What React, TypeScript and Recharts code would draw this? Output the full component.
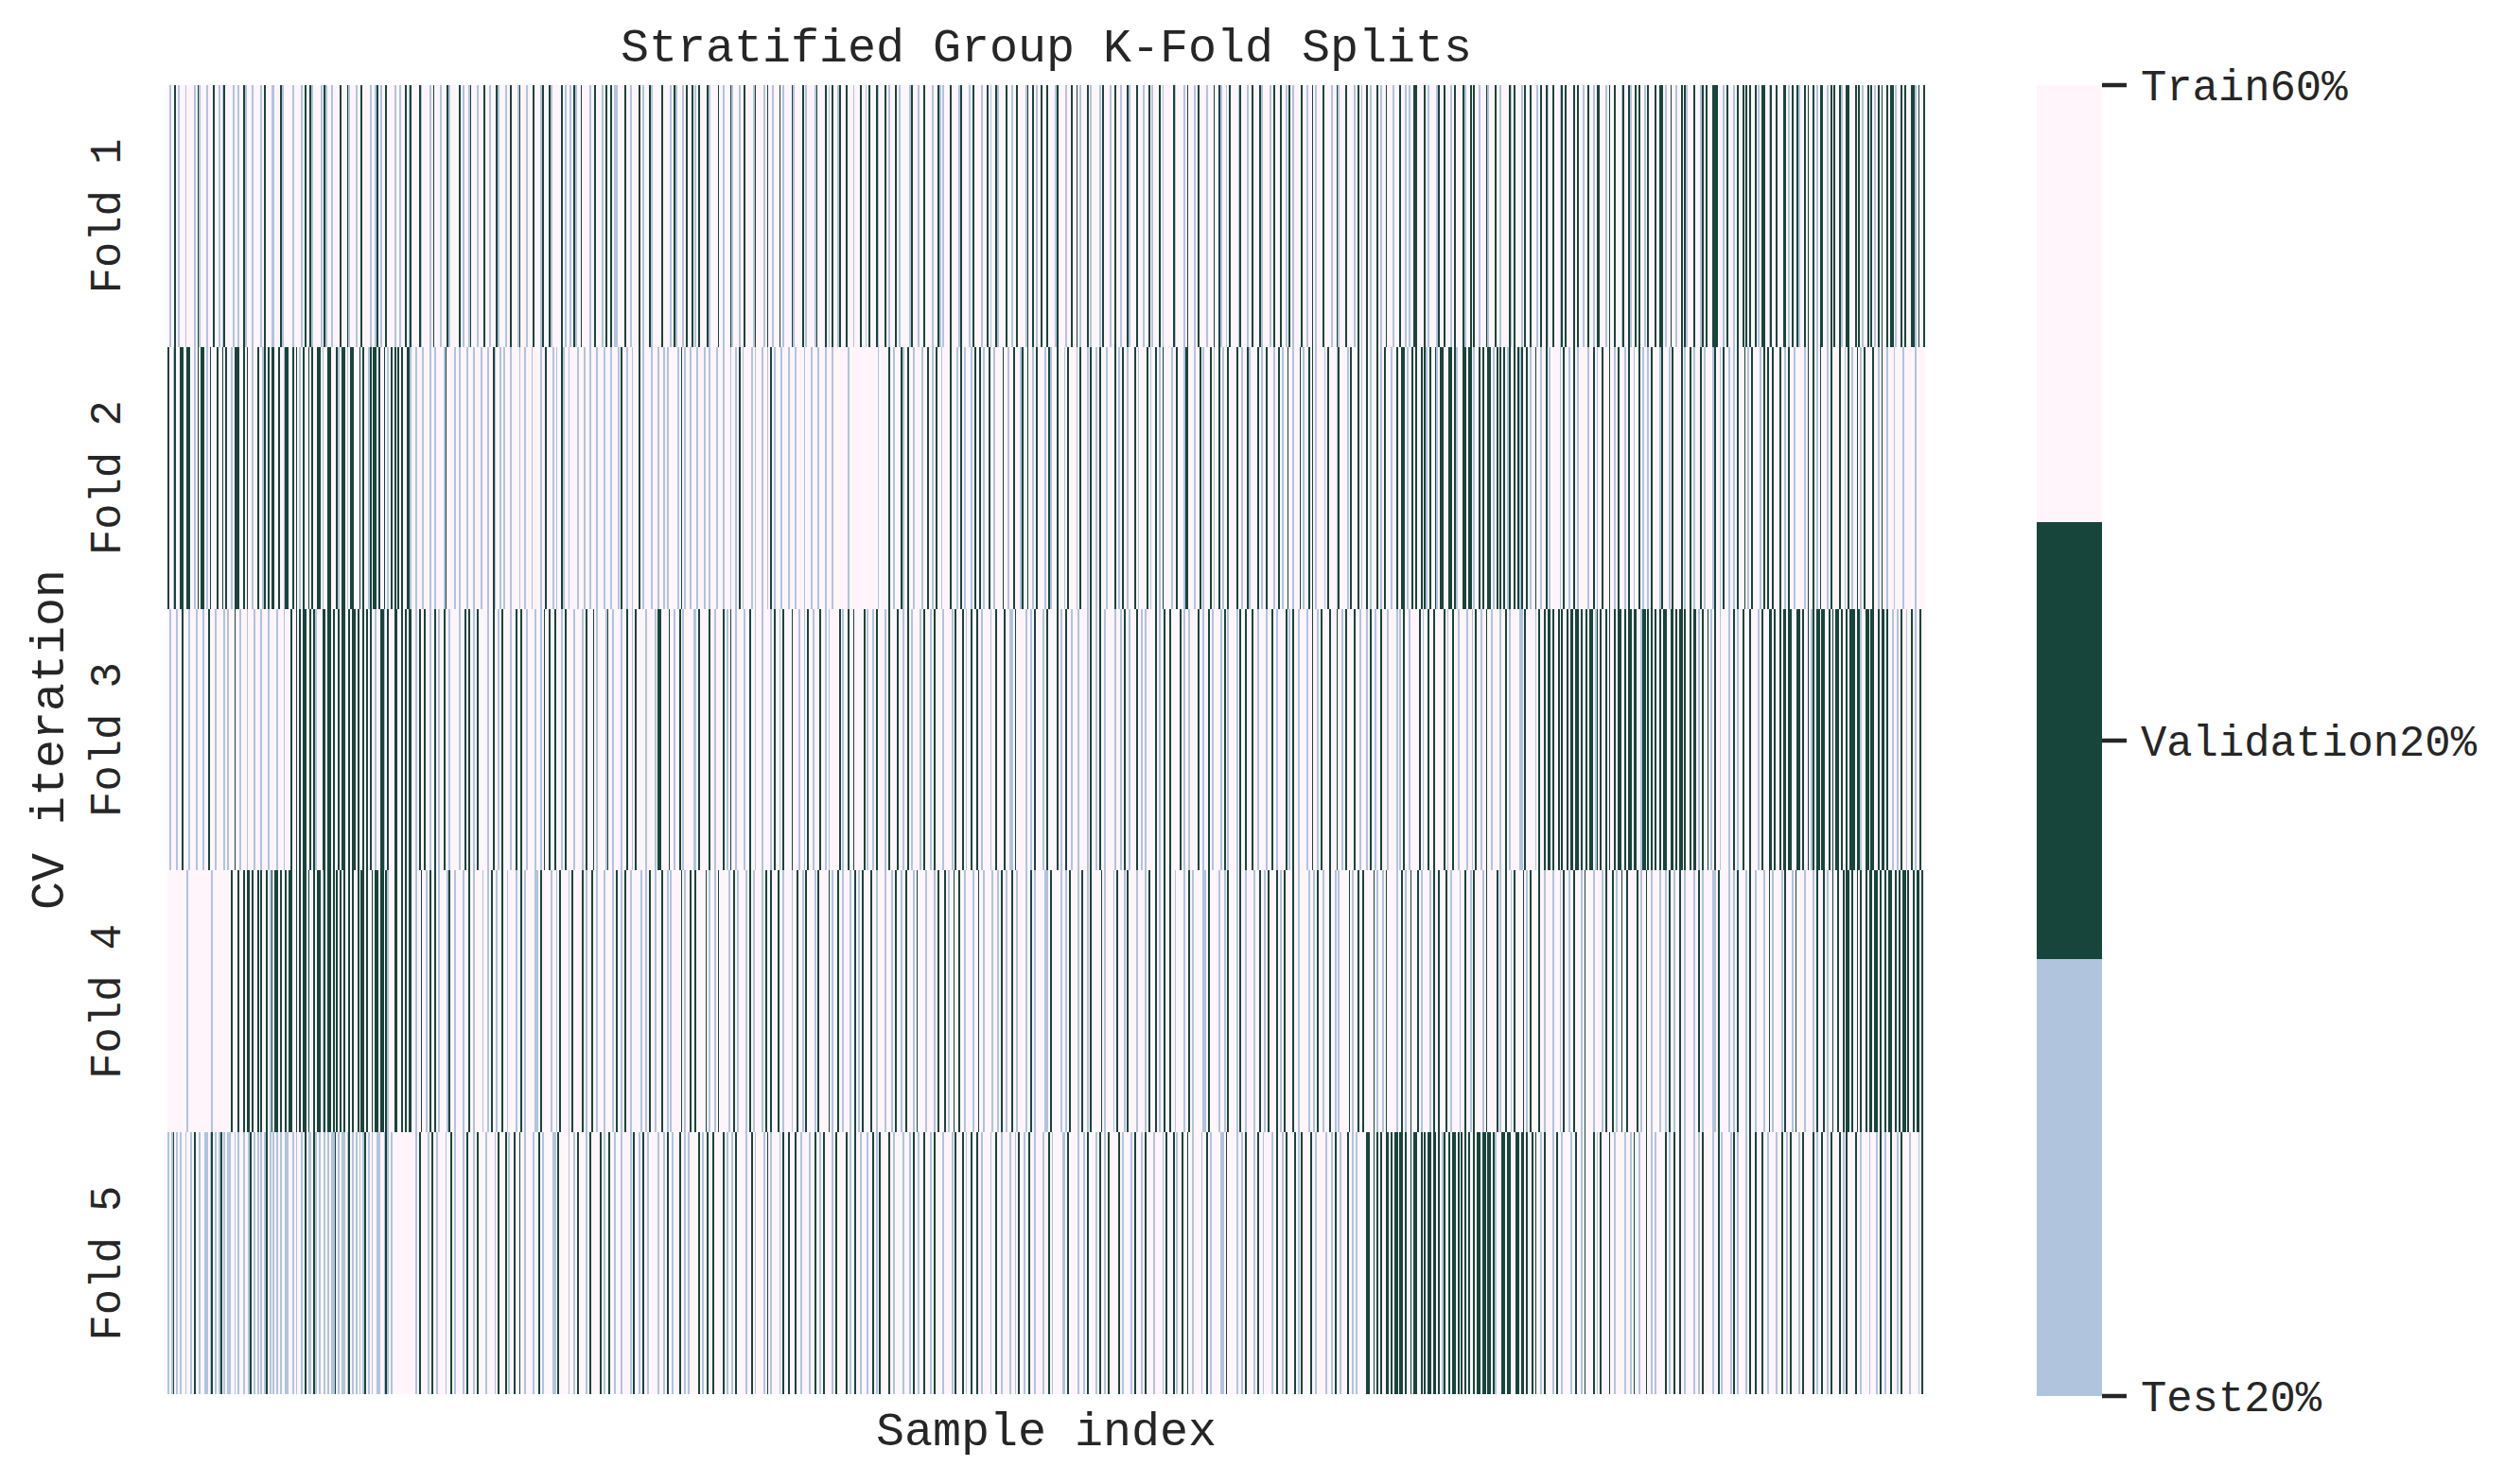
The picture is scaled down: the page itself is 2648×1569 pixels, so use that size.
import React from 'react';
import { BarChart, Bar, XAxis, YAxis, Cell } from 'recharts';

const TITLE = 'Stratified Group K-Fold Splits';
const X_LABEL = 'Sample index';
const Y_LABEL = 'CV iteration';
const FOLD_LABELS = ['Fold 1', 'Fold 2', 'Fold 3', 'Fold 4', 'Fold 5'];
// split codes: 0 = train, 1 = validation, 2 = test
const SPLIT_COLORS = ['#fff5fa', '#18453b', '#b0c4de'];
const COLORBAR_KEYS = ['test', 'validation', 'train'];
const COLORBAR_COLORS = ['#b0c4de', '#18453b', '#fff5fa'];
const COLORBAR_TICKS = [0, 1.5, 3];
const COLORBAR_LABELS = ['Test20%', 'Validation20%', 'Train60%'];

const FOLD_1 = `
0200102000 2000020120 0020001002 0210000200 2001200020 0002010002 2000120000 0200002010 0120000201 2002000010
0012000200 1000020021 0200100002 0020010210 0001200002 0100020001 2000001020 0210002000 1002000120 0020010002
1000200010 0021000120 0000102002 0120010000 2001000201 0010220000 1002000010 2000120000 0100002012 0002010010
2010000120 0001002000 1200020010 0002100002 0100200010 2000012000 0102000021 0000102010 0210001000 2000100201
0001200010 2000102000 0021000200 1000020012 0200010000 2100002010 0002001020 0120000100 2001000021 0010200100
1000021000 0200100102 0001020000 2010002001 0020001200 0100020010 2000102000 0012000020 1000201000 0200010012
0020100002 1000200100 0120000201 0001002010 2000010020 0102000100 0020012000 1000020102 0010200010 2001000200
0100202001 1000010200 0021001000 2010000120 0101002000 1200010020 0001201000 2010010002 0100120010 0021010000
1010020010 0201100020 1001000210 0120010100 2010001001 1020010020 0101200010 0021010001 1100020100 0201001010
1001020110 0210010001 1020100120 0101001020 1100201010 0120011000 1010200101 0201010010 1102001010 0011201001
`;

const FOLD_2 = `
1002100110 0110020101 1020100010 0101002011 1001010020 0100210101 1001002110 0101020100 1010011020 0110001201
1020110001 0100210110 1001020101 0101001120 0200020002 0020000210 0002002000 2000200020 0020012002 0200020000
2002000200 0020010002 0200120020 0002000200 2000200020 0020002010 0200200010 2000020002 0020200000 2010200200
0200020020 0020002000 2002010200 0020200020 0201020002 0002000200 0020002000 2000200020 0000000200 0000000000
0000200000 1002000120 0100200002 0010020100 2000010002 0102000201 0010200100 2000010020 0100021001 0020100002
0120001000 2010000201 0002010020 1000200001 0201002000 1020000102 0010201000 0200100021 1000200102 0001020010
2001000010 0200120000 1020010002 0010200100 2000102001 0102000020 1000021000 0201000102 0010200010 2010002001
0011020010 1001012010 0120110001 1012000110 1102001010 0110201010 1021001012 1001020010 0200102000 0020100200
1020000020 0102001000 1002010002 0100200102 0020100002 1000201000 0102001020 0010200002 1002010020 0201000102
0100002010 1001000100 2010020000 0201001020 1000201000 0100201020 0102010000 1002010020 0020000200 0000200000
`;

const FOLD_3 = `
0200020010 0020002000 2001000200 0020200010 0200020002 0002000200 0020002000 1001010110 0101200011 0110100101
1001011010 0101010020 0112010001 1001010110 0201001002 0010200100 2000002001 0100201000 0020010020 1000020010
0100200002 0020100100 1000201000 0200002010 0010200002 1002000020 0100201000 0020000201 1000010020 0102000002
2010000010 0200001020 1002000020 0100200020 0002010020 1000010002 0020100200 0100202000 0010200100 1000001020
0201000020 1000010020 0102000020 1000201000 0200002010 0010200100 1002000020 0100001002 2010000020 0201000020
1000001020 0100200020 0002010020 1002000002 0020100200 0100202000 0010200100 1000001020 0200001002 0010200002
0102000020 1001000100 2000020010 0200001020 1002000020 0100201000 0100010020 1000010020 0020100200 1000200002
0201002000 0010200100 1000001020 0100200002 0020100200 1002000020 0102000002 2010000020 1001011010 0101001011
0110100101 1021010010 1001011001 0110110021 1010101001 0110011010 1101001011 0201001020 1002000020 0102001000
1000020100 0110100101 1011000110 1001021011 0110010101 1010010111 0112001101 1001011010 0200201002 0010200100
`;

const FOLD_4 = `
0000000000 0200000000 0000020000 0000001000 1001011010 0101001021 0110100101 1001010110 1001011021 0110101010
1001010010 1101001011 0110120001 1001010110 0200100201 0010200002 1002000020 0100200002 0020100200 1002000020
0102000002 2010000020 0201000020 1000001020 0100200020 0002010020 1002000002 0020100200 0100202000 0010200100
1000001020 0201000002 0010200002 0102000020 1001000100 2000020010 0201000020 1000001020 0100200020 0102010000
1002000020 0020100200 1000201000 0200002010 0010200100 1002000020 0100200002 0020100200 1002000020 0102000002
2010000020 0201000020 1002010000 0102000020 1000201000 0200002010 0010200100 1002000020 0102000002 2010000020
0201000020 1002000020 0100201000 0102010000 1002000002 0020100200 0100202000 0010200100 1000001020 0201000002
0010200100 0102000020 1001000100 2000020010 0201000020 1000001020 0100201000 0102010000 1002000020 0020100200
1000201000 0200002010 0010200100 1000001020 0100200002 0020100200 1002000020 0102000002 2010000020 0201000020
1002000020 0102000020 1000201000 0200002010 0010200100 1001011010 0101001011 0110100101 1001010110 1001011010
`;

const FOLD_5 = `
2021020200 2002010020 0220210202 1020220020 2002002102 0202021020 2020200220 0202002010 2201202002 0202210202
2021020202 0210202002 2002120200 0000000000 0201000020 1002000020 0102000020 1000201000 0200002010 0010200100
1002000020 0102000002 2010000020 0201000020 1000001020 0100200020 0002010020 1002000002 0020100200 0100202000
0010200100 1000001020 0201000002 0010200002 0102000020 1001000100 2000020010 0201000020 1000001020 0100200020
0102010000 1002000020 0020100200 1000201000 0200002010 0010200100 1002000020 0100200002 0020100200 1002000020
0102000002 2010000020 0201000020 1002010000 0102000020 1000201000 0200002010 0010200100 1002000020 0102000002
2010000020 0201000020 1002000020 0100201000 0102010000 1002000002 0020100200 0100202000 0011001010 1001101011
0110100101 1001010110 1101021001 0110101010 1001011011 0110120001 1011000110 1101001010 0201000020 1002000020
0100201000 0102010000 1002000002 0020100200 0100202000 0010200100 1002000020 0201000002 0010200002 0102000020
1001000100 2000020010 0201000020 1000001020 0100201000 0102010000 1002000020 0020100200 1000201000 0200002010
`;

const FOLDS: number[][] = [FOLD_1, FOLD_2, FOLD_3, FOLD_4, FOLD_5].map((s) =>
  s.replace(/\s+/g, '').split('').map((c) => Number(c))
);

const N = Math.max(...FOLDS.map((f) => f.length));
const SAMPLES = Array.from({ length: N }, (_, i) => i);
const rows = SAMPLES.map((i) => {
  const r: Record<string, number> = { idx: i };
  FOLDS.forEach((_, k) => {
    r[`f${k + 1}`] = 1;
  });
  return r;
});

const colorbarRow: Record<string, any> = { name: 'cb' };
COLORBAR_KEYS.forEach((k) => {
  colorbarRow[k] = 1;
});

const FONT = '"Liberation Mono", "DejaVu Sans Mono", monospace';
const TEXT = '#262626';
const W = 2632;
const H = 1553;
const PLOT_LEFT = 169;
const PLOT_W = 1858;
const TOP = 82;
const BOTTOM = 87;
const BAND = PLOT_W / N;

const StripShape = (p: any) => (
  <rect x={p.x} y={p.y} width={BAND} height={p.height} fill={p.fill} shapeRendering="crispEdges" />
);

const FoldTick = (props: any) => {
  const { y, payload } = props;
  const label = FOLD_LABELS[FOLD_LABELS.length - 1 - Math.floor(payload.value)];
  const x = 119;
  return (
    <text
      x={x}
      y={y}
      transform={`rotate(-90, ${x}, ${y})`}
      textAnchor="middle"
      fontFamily={FONT}
      fontSize={45.5}
      fill={TEXT}
    >
      {label}
    </text>
  );
};

export default function App() {
  const foldOrder = FOLDS.map((_, k) => k).reverse();
  return (
    <div style={{ position: 'relative', width: W, height: H, background: '#ffffff' }}>
      <div style={{ position: 'absolute', left: 0, top: 0 }}>
        <BarChart
          width={PLOT_LEFT + PLOT_W + 605}
          height={H}
          data={rows}
          barCategoryGap={0}
          barGap={0}
          margin={{ top: TOP, right: 605, bottom: BOTTOM, left: 0 }}
        >
          <XAxis dataKey="idx" type="category" hide />
          <YAxis
            type="number"
            domain={[0, FOLDS.length]}
            ticks={FOLDS.map((_, k) => k + 0.5)}
            interval={0}
            width={PLOT_LEFT}
            axisLine={false}
            tickLine={false}
            tick={<FoldTick />}
          />
          {foldOrder.map((k) => (
            <Bar
              key={k}
              dataKey={`f${k + 1}`}
              stackId="folds"
              isAnimationActive={false}
              shape={StripShape}
            >
              {SAMPLES.map((i) => (
                <Cell key={i} fill={SPLIT_COLORS[FOLDS[k][i] ?? 0]} />
              ))}
            </Bar>
          ))}
        </BarChart>
      </div>
      <div style={{ position: 'absolute', left: 2145, top: 0 }}>
        <BarChart
          width={487}
          height={H}
          data={[colorbarRow]}
          barCategoryGap={0}
          barGap={0}
          margin={{ top: TOP, right: 0, bottom: 85, left: 0 }}
        >
          <XAxis dataKey="name" type="category" hide />
          <YAxis
            orientation="right"
            type="number"
            domain={[0, 3]}
            ticks={COLORBAR_TICKS}
            interval={0}
            width={418}
            axisLine={false}
            tickSize={26}
            tickMargin={15}
            tickLine={{ stroke: TEXT, strokeWidth: 4.5 }}
            tick={{ fill: TEXT, fontSize: 45.5, fontFamily: FONT }}
            tickFormatter={(v: number) => COLORBAR_LABELS[COLORBAR_TICKS.indexOf(v)]}
          />
          {COLORBAR_KEYS.map((k, i) => (
            <Bar key={k} dataKey={k} stackId="cb" fill={COLORBAR_COLORS[i]} isAnimationActive={false} />
          ))}
        </BarChart>
      </div>
      <svg
        width={W}
        height={H}
        style={{ position: 'absolute', left: 0, top: 0, pointerEvents: 'none' }}
      >
        <text x={1098} y={57} textAnchor="middle" fontFamily={FONT} fontSize={50} fill={TEXT}>
          {TITLE}
        </text>
        <text x={1098} y={1520} textAnchor="middle" fontFamily={FONT} fontSize={50} fill={TEXT}>
          {X_LABEL}
        </text>
        <text
          x={59}
          y={774}
          transform="rotate(-90, 59, 774)"
          textAnchor="middle"
          fontFamily={FONT}
          fontSize={50}
          fill={TEXT}
        >
          {Y_LABEL}
        </text>
      </svg>
    </div>
  );
}
